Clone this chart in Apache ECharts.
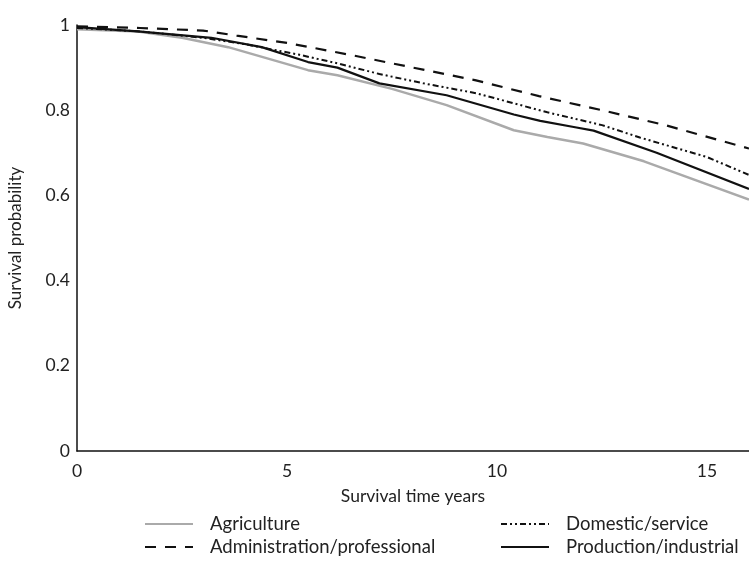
<!DOCTYPE html>
<html>
<head>
<meta charset="utf-8">
<script src="https://cdn.jsdelivr.net/npm/echarts@6/dist/echarts.min.js"></script>
<style>html,body{margin:0;padding:0;background:#fff}#c{width:749px;height:564px}</style>
</head>
<body>
<div id="c"></div>
<script>
const seriesNames = ['Agriculture', 'Administration/professional', 'Domestic/service', 'Production/industrial'];
const agriculture = [[0,0.99],[1.45,0.985],[2.5,0.97],[3.6,0.948],[5.5,0.894],[6.2,0.882],[7.5,0.85],[8.8,0.812],[10.4,0.753],[11.2,0.737],[12.05,0.722],[13.5,0.68],[16,0.59]];
const administration = [[0,0.997],[1.5,0.993],[3,0.987],[3.8,0.975],[5,0.958],[6.5,0.93],[8,0.9],[9.5,0.87],[11,0.833],[12.5,0.8],[14,0.765],[16,0.71]];
const domestic = [[0,0.993],[1.5,0.985],[3,0.97],[4,0.955],[5.3,0.93],[6.2,0.91],[7.2,0.885],[8.25,0.863],[9.5,0.84],[11.2,0.795],[12.5,0.765],[13.4,0.736],[15,0.69],[16,0.648]];
const production = [[0,0.995],[1.45,0.985],[3.2,0.97],[4.4,0.948],[5.5,0.913],[6.2,0.9],[7.2,0.863],[8.8,0.835],[10.4,0.79],[11.03,0.775],[11.86,0.76],[12.3,0.752],[13.8,0.7],[16,0.615]];
const yTicks = [0, 0.2, 0.4, 0.6, 0.8, 1];

const font = 'Lato, "Open Sans", sans-serif';
const txt = '#222';
function legendFor(names, left) {
  return {
    data: names, left: left, top: 514, height: 48,
    orient: 'vertical', itemWidth: 48, itemHeight: 12, itemGap: 3, padding: 0,
    itemStyle: { opacity: 0 },
    textStyle: { fontSize: 18.5, lineHeight: 20, color: txt, fontFamily: font, padding: [0, 0, 0, 12] }
  };
}
const chart = echarts.init(document.getElementById('c'));
chart.setOption({
  animation: false,
  backgroundColor: '#fff',
  textStyle: { fontFamily: font, color: txt },
  grid: { left: 77, right: 0, top: 25, bottom: 113, containLabel: false, outerBoundsMode: 'none' },
  xAxis: {
    type: 'value', min: 0, max: 16, interval: 5,
    name: 'Survival time years', nameLocation: 'middle', nameGap: 36,
    nameTextStyle: { fontSize: 17.5, color: txt, fontFamily: font },
    axisLine: { lineStyle: { color: '#111', width: 1.5 } },
    axisTick: { show: false },
    axisLabel: { fontSize: 17.5, color: txt, fontFamily: font, margin: 11,
      formatter: v => (v % 5 === 0 ? String(v) : '') },
    splitLine: { show: false }
  },
  yAxis: {
    type: 'value', min: yTicks[0], max: yTicks[yTicks.length - 1], interval: 0.2,
    name: 'Survival probability', nameLocation: 'middle', nameGap: 53, nameRotate: 90,
    nameTextStyle: { fontSize: 17, color: txt, fontFamily: font },
    axisLine: { show: true, lineStyle: { color: '#111', width: 1.5 } },
    axisTick: { show: false },
    axisLabel: { fontSize: 17.5, color: txt, fontFamily: font, margin: 7 },
    splitLine: { show: false }
  },
  legend: [
    legendFor([seriesNames[0], seriesNames[1]], 144),
    legendFor([seriesNames[2], seriesNames[3]], 500)
  ],
  series: [
    { name: seriesNames[0], type: 'line', data: agriculture, symbol: 'none', z: 2,
      lineStyle: { color: '#aaaaaa', width: 2.5 }, itemStyle: { color: '#aaaaaa' } },
    { name: seriesNames[1], type: 'line', data: administration, symbol: 'none', z: 3,
      lineStyle: { color: '#111', width: 2.2, type: [11, 9] }, itemStyle: { color: '#111' } },
    { name: seriesNames[2], type: 'line', data: domestic, symbol: 'none', z: 3,
      lineStyle: { color: '#111', width: 2, type: [6, 3, 2, 3, 2, 3] }, itemStyle: { color: '#111' } },
    { name: seriesNames[3], type: 'line', data: production, symbol: 'none', z: 4,
      lineStyle: { color: '#111', width: 2.2 }, itemStyle: { color: '#111' } }
  ]
});
</script>
</body>
</html>
